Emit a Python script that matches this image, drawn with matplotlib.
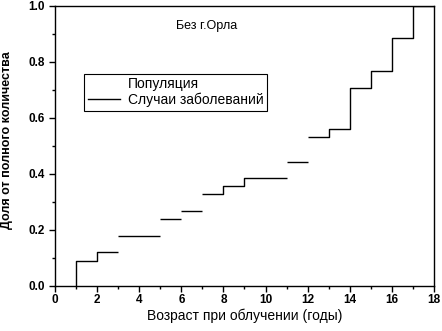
import matplotlib.pyplot as plt
import numpy as np
from matplotlib.lines import Line2D
from matplotlib.ticker import MultipleLocator

plt.rcParams.update({
    'font.family': ['Liberation Sans', 'DejaVu Sans'],
    'font.size': 10,
})

# Cumulative share of cases by age at exposure
seg_start = [1, 2, 3, 5, 6, 7, 8, 9, 11, 12, 13, 14, 15, 16, 17]
seg_end = [2, 3, 5, 6, 7, 8, 9, 11, 12, 13, 14, 15, 16, 17, 18]
seg_level = [0.09, 0.12, 0.178, 0.238, 0.267, 0.327, 0.356, 0.385,
             0.442, 0.533, 0.561, 0.706, 0.768, 0.885, 1.0]
# whether the riser into a segment is drawn
seg_joined = [1, 1, 0, 0, 0, 0, 1, 1, 0, 0, 1, 1, 1, 1, 1]

xs, ys = [], []
prev = 0.0
for x0, x1, lv, j in zip(seg_start, seg_end, seg_level, seg_joined):
    if j:
        xs += [x0, x0, x1]
        ys += [prev, lv, lv]
    else:
        xs += [np.nan, x0, x1]
        ys += [np.nan, lv, lv]
    prev = lv

fig = plt.figure(figsize=(4.42, 3.31), dpi=100)
ax = fig.add_axes([0.1244, 0.136, 0.8575, 0.846])

ax.plot(xs, ys, color='black', lw=1.0, solid_capstyle='butt')

ax.set_xlim(0, 18)
ax.set_ylim(0, 1.0)
ax.xaxis.set_major_locator(MultipleLocator(2))
ax.xaxis.set_minor_locator(MultipleLocator(1))
ax.yaxis.set_major_locator(MultipleLocator(0.2))
ax.yaxis.set_minor_locator(MultipleLocator(0.1))
ax.tick_params(which='major', direction='out', length=4, width=1, labelsize=8.5)
ax.tick_params(which='minor', direction='out', length=2, width=1)
ax.tick_params(axis='x', which='major', pad=1.5)
ax.tick_params(top=False, right=False)
for lab in ax.get_xticklabels() + ax.get_yticklabels():
    lab.set_fontweight('bold')
ax.yaxis.set_major_formatter(plt.FuncFormatter(lambda v, p: f'{v:.1f}'))
for s in ax.spines.values():
    s.set_linewidth(1.0)

ax.set_xlabel('Возраст при облучении (годы)', fontsize=10, labelpad=2)
ax.set_ylabel('Доля от полного количества', fontsize=9, fontweight='bold',
              family=['Liberation Sans Narrow', 'Liberation Sans'])
ax.yaxis.set_label_coords(-0.112, 0.52)

ax.text(0.40, 0.93, 'Без г.Орла', transform=ax.transAxes, fontsize=9,
        ha='center', va='center')

handles = [Line2D([], [], color='none'),
           Line2D([], [], color='black', lw=1.0)]
leg = ax.legend(handles, ['Популяция', 'Случаи заболеваний'],
                loc='upper left', bbox_to_anchor=(0.077, 0.757),
                fancybox=False, edgecolor='black', framealpha=1,
                borderpad=0.25, handlelength=2.3, handletextpad=0.6,
                labelspacing=0.1, borderaxespad=0, fontsize=10)
leg.get_frame().set_linewidth(0.8)

fig.savefig('out.png', dpi=100)
